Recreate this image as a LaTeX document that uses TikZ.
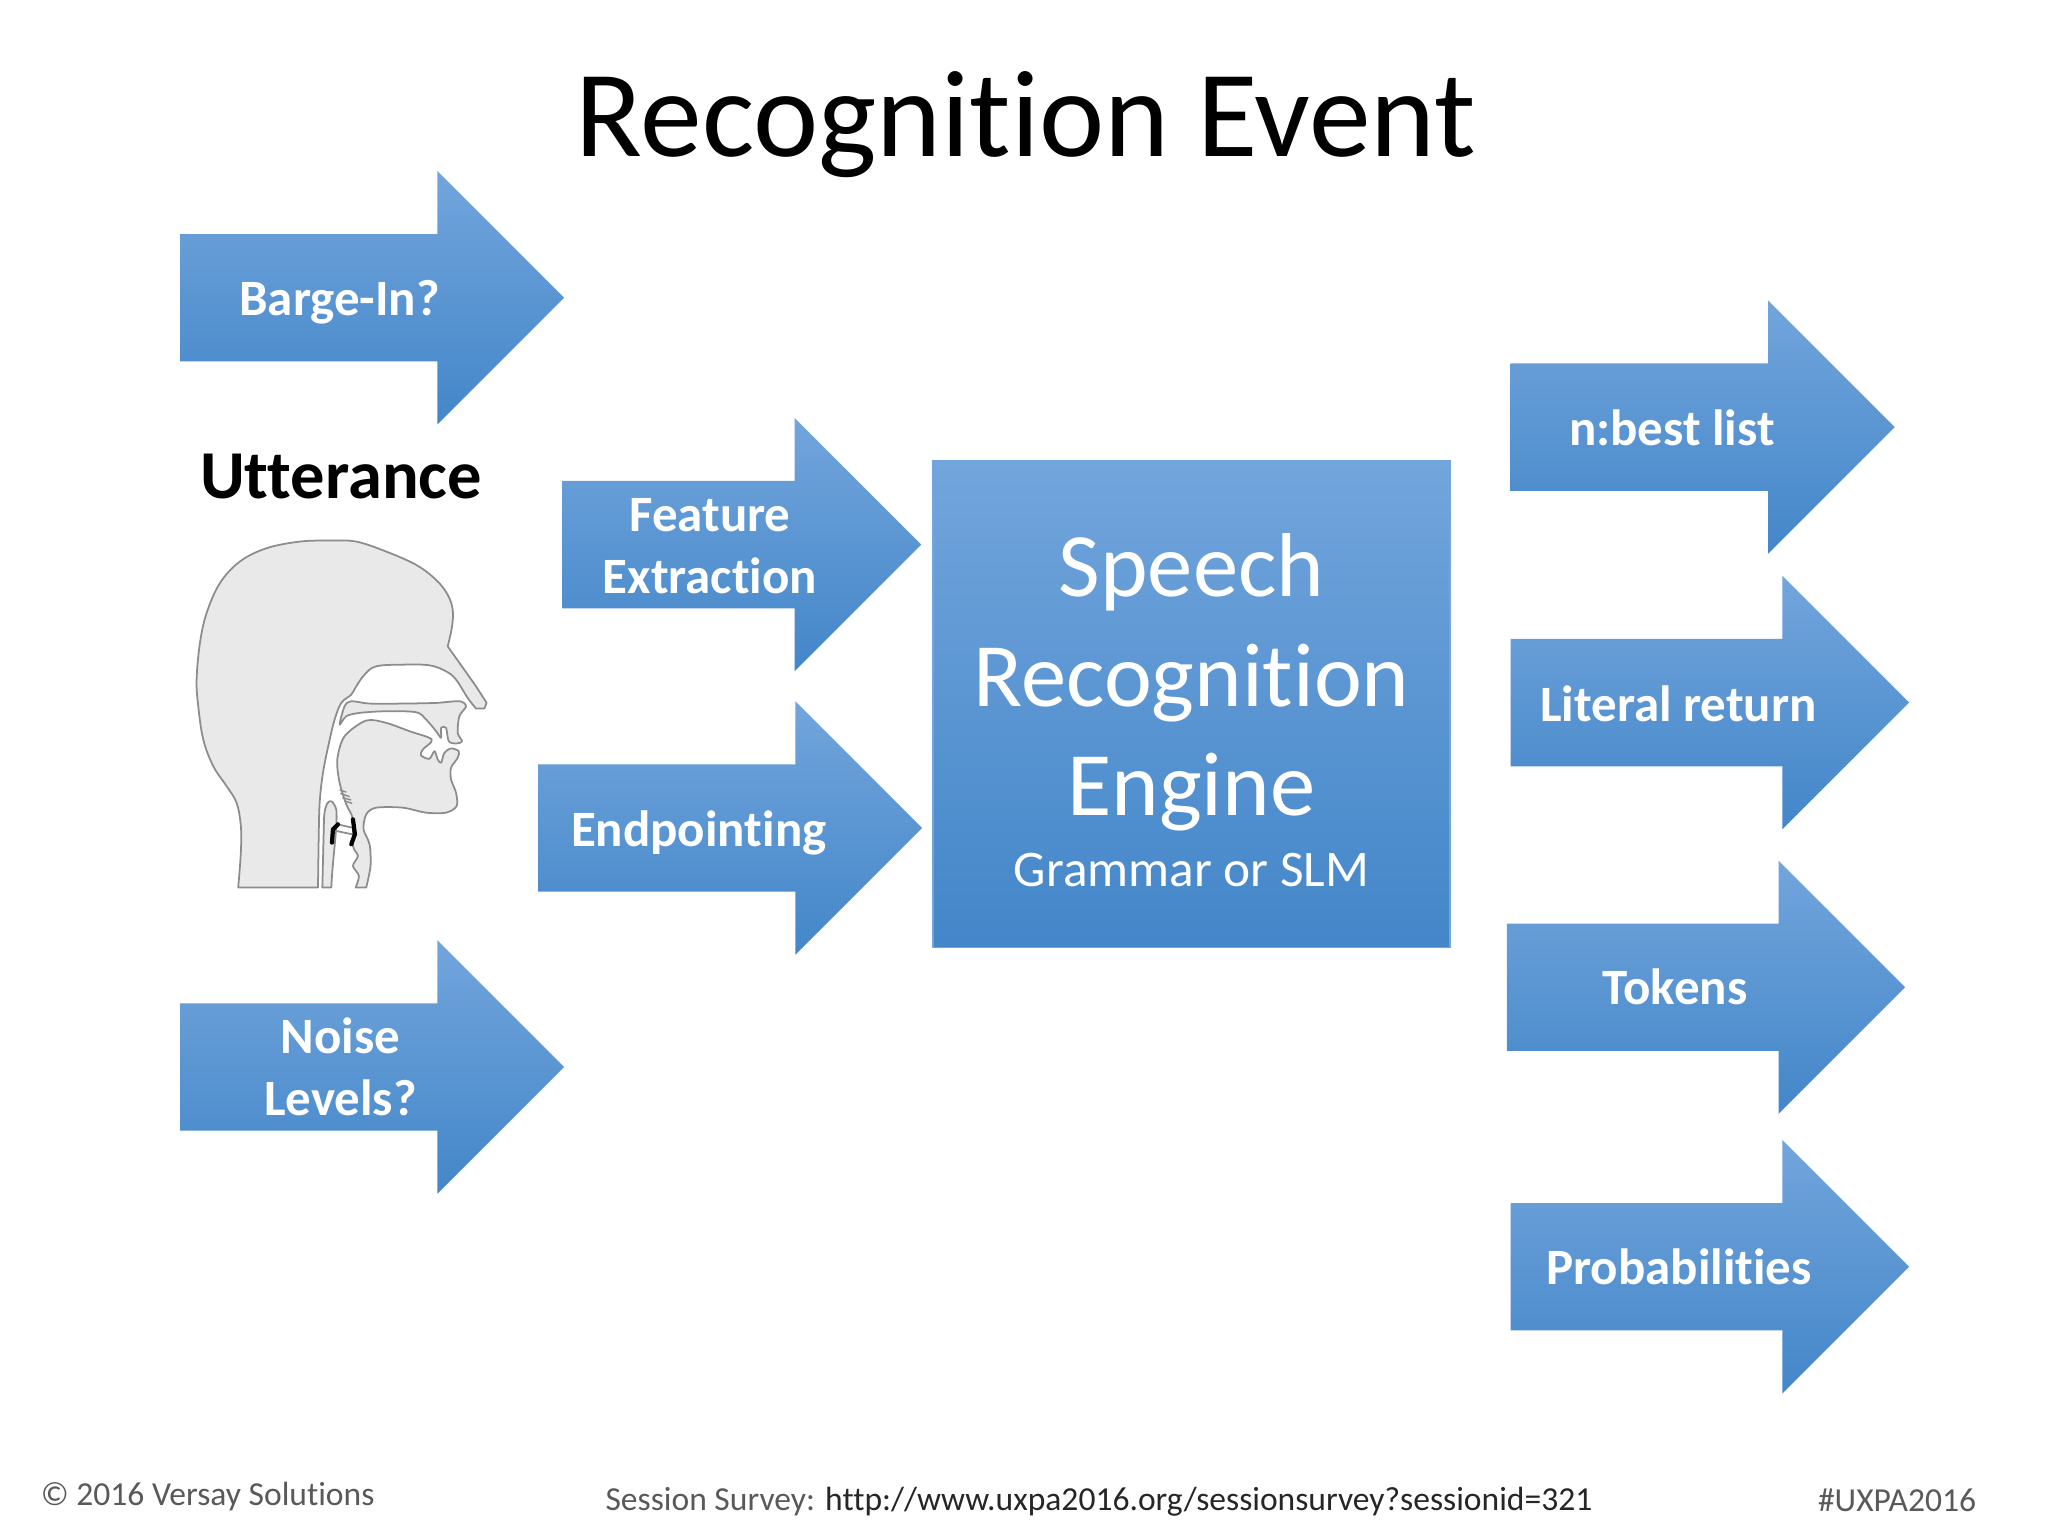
\documentclass[tikz,border=0pt]{standalone}
\usepackage{fontspec}
\setmainfont[Ligatures=NoCommon]{Carlito}
\usetikzlibrary{positioning}
\usetikzlibrary{shapes.arrows}
\definecolor{blueTop}{HTML}{72A5DC}
\definecolor{blueMid}{HTML}{5698DB}
\definecolor{blueBot}{HTML}{4386C9}
\definecolor{headFill}{HTML}{E9E9E9}
\definecolor{headLine}{HTML}{8C8C8C}
\definecolor{footGray}{HTML}{595959}
\tikzset{%
  flow/.style     = {single arrow, single arrow tip angle = 90,
    single arrow head extend = 0.63cm, single arrow head indent = 0pt,
    text height = 1.26cm, text depth = 0pt, inner sep = 0pt, anchor = tail,
    top color = blueTop, middle color = blueMid, bottom color = blueBot},
  flowtext/.style = {text = white, align = center, font = \fontsize{14.5}{17.5}\bfseries\selectfont},
  engine/.style   = {rectangle, draw = blueTop, line width = 0.4pt, minimum width = 5.17cm,
    minimum height = 4.87cm, top color = blueTop, middle color = blueMid, bottom color = blueBot},
  foot/.style     = {anchor = base, font = \fontsize{9.55}{12}\selectfont, text = footGray},
  headpart/.style = {fill = headFill, draw = headLine, line width = 0.5pt, line join = round}
}

\begin{document}
\begin{tikzpicture}

  \useasboundingbox (0,0) rectangle (20.48,15.36);

  \node at (10.26,13.79) [anchor=base, font=\fontsize{35.15}{40}\selectfont] (title) {Recognition Event};

  % input side
  \node at (1.795,12.382) [flow, minimum height=3.84cm] (bargein) {};
  \node at (3.396,12.34) [flowtext] (bargeinText) {Barge-In?};
  \node at (3.41,10.595) [font=\fontsize{19.5}{22}\bfseries\selectfont] (utterance) {Utterance};
  \node at (5.616,9.914) [flow, minimum height=3.59cm] (feature) {};
  \node at (7.10,9.90) [flowtext] (featureText) {Feature\\Extraction};
  \node at (5.375,7.08) [flow, minimum height=3.84cm] (endpoint) {};
  \node at (6.987,7.03) [flowtext] (endpointText) {Endpointing};
  \node at (1.795,4.69) [flow, minimum height=3.84cm] (noise) {};
  \node at (3.405,4.69) [flowtext] (noiseText) {Noise\\Levels?};

  % engine
  \node at (11.915,8.318) [engine] (srengine) {};
  \node at (11.915,8.535) [text=white, align=center, font=\fontsize{25.8}{31.1}\selectfont] (srengineText) {Speech\\Recognition\\Engine};
  \node at (11.915,6.66) [text=white, font=\fontsize{14.6}{17}\selectfont] (grammar) {Grammar or SLM};

  % output side
  \node at (15.10,11.089) [flow, minimum height=3.84cm] (nbest) {};
  \node at (16.72,11.08) [flowtext] (nbestText) {n:best list};
  \node at (15.10,8.334) [flow, minimum height=3.984cm] (literal) {};
  \node at (16.785,8.32) [flowtext] (literalText) {Literal return};
  \node at (15.062,5.487) [flow, minimum height=3.983cm] (tokens) {};
  \node at (16.75,5.49) [flowtext] (tokensText) {Tokens};
  \node at (15.10,2.692) [flow, minimum height=3.984cm] (prob) {};
  \node at (16.79,2.69) [flowtext] (probText) {Probabilities};

  % head
  \begin{scope}[shift={(1.7,10.16)}, x=0.003333cm, y=-0.003333cm]
    \draw[headpart] (205,1105) -- plot[smooth, tension=0.6] coordinates {(205,1105) (213,1000) (213,920) (200,850) (170,800)
      (130,740) (100,660) (85,560) (80,480) (90,370) (110,280) (150,190) (210,125) (290,85) (390,65) (480,62)
      (560,65) (650,95) (740,135) (800,180) (835,225) (850,270) (848,320) (835,380)}
      -- (920,500) -- (952,550) -- (945,567) -- (920,567) -- plot[smooth, tension=0.6] coordinates {(920,567) (895,535)
      (860,480) (830,455) (780,437) (700,435) (620,440) (585,465) (560,500) (545,525) (515,550) (495,600)
      (478,670) (460,760) (450,850) (447,960) (445,1105)} -- cycle;
    \draw[headpart] plot[smooth cycle, tension=0.5] coordinates {(510,615) (525,560) (545,545) (600,552) (700,552) (800,550)
      (870,545) (890,560) (870,590) (865,640) (878,665) (860,672) (838,665) (830,625) (815,625) (815,655)
      (800,635) (770,600) (740,578) (650,575) (570,580) (530,590)};
    \draw[headpart] (558,1105) -- plot[smooth, tension=0.5] coordinates {(558,1105) (568,1070) (550,1040) (565,1010) (550,980)
      (550,900) (530,855) (510,790) (503,720) (525,650) (590,603) (650,610) (720,635) (780,655) (785,668)
      (760,690) (755,708) (780,718) (795,695) (805,720) (815,730) (825,700) (845,687) (868,695) (865,715)
      (845,745) (845,780) (860,820) (862,860) (830,880) (770,880) (700,865) (620,865) (590,885) (582,930)
      (600,975) (603,1040) (590,1105)} -- cycle;
    \draw[headpart] (458,1105) -- (463,900) .. controls (465,845) and (485,825) .. (500,870)
      .. controls (505,920) and (490,1000) .. (485,1105) -- cycle;
    \draw[headLine, line width=0.5pt] (503,915) -- (548,925) (500,935) -- (548,945);
    \draw[black, line width=1.2pt, line cap=round] (487,970) -- (490,930) -- (505,915);
    \draw[black, line width=1.2pt, line cap=round] (545,975) -- (556,945) -- (550,900);
    \draw[headLine, line width=0.4pt] (510,812) -- (530,818) (512,822) -- (540,832) (518,835) -- (545,842) (525,845) -- (548,852);
  \end{scope}

  % footer
  \node at (2.077,0.30) [foot] (copyright) {© 2016 Versay Solutions};
  \node at (10.99,0.25) [foot] (survey) {Session Survey: {\color[HTML]{262626}http://www.uxpa2016.org/sessionsurvey?sessionid=321}};
  \node at (18.97,0.24) [foot] (hashtag) {\#UXPA2016};

\end{tikzpicture}
\end{document}
